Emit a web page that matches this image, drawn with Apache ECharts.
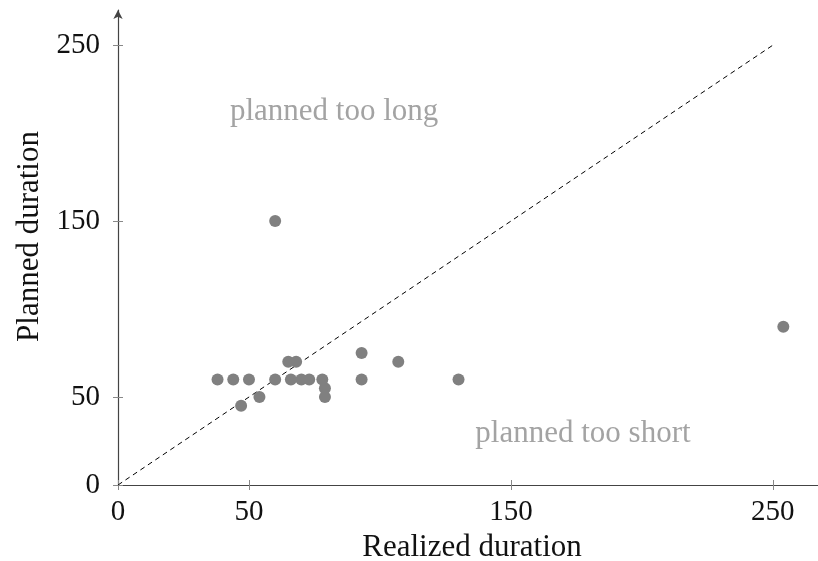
<!DOCTYPE html>
<html>
<head>
<meta charset="utf-8">
<script src="https://cdn.jsdelivr.net/npm/echarts@6/dist/echarts.min.js"></script>
<style>
html,body{margin:0;padding:0;background:#fff;}
#chart{width:818px;height:561px;}
</style>
</head>
<body>
<div id="chart"></div>
<script>
// Data
const realized = [38, 44, 50, 47, 54, 60, 60, 65, 68, 66, 70, 73, 78, 79, 79, 93, 93, 107, 130, 254];
const planned  = [60, 60, 60, 45, 50, 150, 60, 70, 70, 60, 60, 60, 60, 55, 50, 75, 60, 70, 60, 90];
const diagonal = [[0, 0], [250, 250]];
const xTicks = [0, 50, 150, 250];
const yTicks = [0, 50, 150, 250];
const annotations = [
  { text: 'planned too long', x: 82.5, y: 212 },
  { text: 'planned too short', x: 177.5, y: 29 }
];

const FONT = '"Liberation Serif", "DejaVu Serif", serif';
const AXIS_COLOR = '#444';

const chart = echarts.init(document.getElementById('chart'), null, { renderer: 'canvas' });

const option = {
  animation: false,
  backgroundColor: '#fff',
  grid: { left: 118, right: -2, top: 10, bottom: 76, containLabel: false, outerBoundsMode: 'none' },
  xAxis: [{
    type: 'value', min: 0, max: 268, position: 'bottom',
    name: 'Realized duration', nameLocation: 'middle', nameGap: 45,
    nameTextStyle: { fontFamily: FONT, fontSize: 31, color: '#111', padding: [0, 0, 0, 6] },
    axisLine: { show: true, onZero: false, lineStyle: { color: AXIS_COLOR, width: 1.2 } },
    axisTick: { show: true, length: 5, customValues: xTicks, lineStyle: { color: '#888' } },
    axisLabel: { customValues: xTicks, fontFamily: FONT, fontSize: 29, color: '#111', margin: 13 },
    splitLine: { show: false }
  }, {
    type: 'value', min: 0, max: 268, position: 'bottom',
    axisLine: { show: false },
    axisTick: { show: true, inside: true, length: 5, customValues: xTicks, lineStyle: { color: '#888' } },
    axisLabel: { show: false },
    splitLine: { show: false }
  }],
  yAxis: [{
    type: 'value', min: 0, max: 270, position: 'left',
    name: 'Planned duration', nameLocation: 'middle', nameGap: 70,
    nameTextStyle: { fontFamily: FONT, fontSize: 31, color: '#111', padding: [0, 0, 0, 22] },
    axisLine: { show: true, onZero: false, symbol: ['none', 'arrow'], symbolSize: [7, 9], lineStyle: { color: AXIS_COLOR, width: 1.2 } },
    axisTick: { show: true, length: 5, customValues: yTicks, lineStyle: { color: '#888' } },
    axisLabel: { customValues: yTicks, fontFamily: FONT, fontSize: 29, color: '#111', margin: 18 },
    splitLine: { show: false }
  }, {
    type: 'value', min: 0, max: 270, position: 'left',
    axisLine: { show: false },
    axisTick: { show: true, inside: true, length: 5, customValues: yTicks, lineStyle: { color: '#888' } },
    axisLabel: { show: false },
    splitLine: { show: false }
  }],
  series: [
    {
      type: 'line', data: diagonal, symbol: 'none', silent: true,
      lineStyle: { color: '#000', width: 1, type: [5, 4] },
      z: 1
    },
    {
      type: 'scatter',
      data: realized.map((r, i) => [r, planned[i]]),
      symbol: 'circle', symbolSize: 12,
      itemStyle: { color: '#808080', opacity: 1 },
      z: 3
    },
    {
      type: 'scatter',
      data: annotations.map(a => ({ value: [a.x, a.y], name: a.text })),
      symbolSize: 0,
      silent: true,
      label: {
        show: true, position: 'inside', formatter: p => p.name,
        fontFamily: FONT, fontSize: 31, color: '#8c8c8c'
      },
      z: 2
    }
  ]
};

chart.setOption(option);
</script>
</body>
</html>
